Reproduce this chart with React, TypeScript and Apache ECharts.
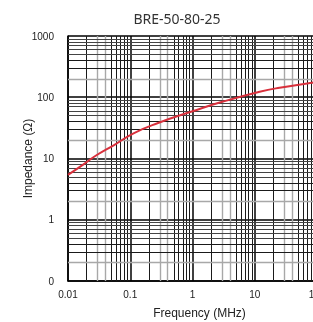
import React, { useEffect, useRef } from "react";
import * as echarts from "echarts";

const title = "BRE-50-80-25";
const xName = "Frequency (MHz)";
const yName = "Impedance (Ω)";

const frequency = [0.01, 0.018, 0.029, 0.055, 0.115, 0.28, 1, 3.1, 12, 25, 82, 100];
const impedance = [5.4, 8.1, 11.4, 16.6, 26, 38, 59, 85, 123, 143, 172, 177];

const xTickLabels = ["0.01", "0.1", "1", "10", "100"];
const yTickLabels = ["0", "1", "10", "100", "1000"];

const xDecades = [0.01, 0.1, 1, 10];
const yDecades = [0.1, 1, 10, 100];
const minorMultipliers = [2, 3, 4, 5, 6, 7, 8, 9];

const FONT = "'Liberation Sans', Arial, sans-serif";

function vStyle(m: number) {
  if (m === 3 || m === 4) return { color: "#a8a8a8", width: 1.4, type: "solid" as const };
  return { color: "#1a1a1a", width: 1, type: "solid" as const };
}
function hStyle(m: number) {
  if (m === 2) return { color: "#a8a8a8", width: 1.4, type: "solid" as const };
  if (m === 3 || m === 4) return { color: "#1a1a1a", width: 1, type: "solid" as const };
  return { color: "#444", width: 1, type: "solid" as const };
}

export default function App() {
  const ref = useRef<HTMLDivElement>(null);
  useEffect(() => {
    if (!ref.current) return;
    const chart = echarts.init(ref.current, undefined, { renderer: "svg" });
    const gridLines: any[] = [];
    xDecades.forEach((d) =>
      minorMultipliers.forEach((m) => gridLines.push({ xAxis: d * m, lineStyle: vStyle(m) }))
    );
    yDecades.forEach((d) =>
      minorMultipliers.forEach((m) => gridLines.push({ yAxis: d * m, lineStyle: hStyle(m) }))
    );
    chart.setOption({
      animation: false,
      grid: {
        left: 68,
        top: 36,
        right: -4,
        bottom: 41,
        containLabel: false,
        outerBoundsMode: "none",
      },
      graphic: [
        {
          type: "text",
          x: 177,
          y: 18,
          style: {
            text: title,
            textAlign: "center",
            textVerticalAlign: "middle",
            fontSize: 14,
            fill: "#333",
            fontFamily: "'Noto Sans', sans-serif",
          },
        },
      ],
      xAxis: {
        type: "log",
        logBase: 10,
        min: 0.01,
        max: 100,
        name: xName,
        nameLocation: "middle",
        nameGap: 26,
        nameMoveOverlap: false,
        nameTextStyle: { fontSize: 12, color: "#222", fontFamily: FONT, padding: [0, 0, 0, 14] },
        axisLine: { show: true, lineStyle: { color: "#000", width: 1.5 } },
        axisTick: { show: false },
        axisLabel: {
          margin: 8,
          fontSize: 10,
          color: "#222",
          fontFamily: FONT,
          formatter: (v: number) => xTickLabels[Math.round(Math.log10(v)) + 2] ?? "",
        },
        splitLine: { show: true, lineStyle: { color: "#000", width: 1.5 } },
      },
      yAxis: {
        type: "log",
        logBase: 10,
        min: 0.1,
        max: 1000,
        name: yName,
        nameLocation: "middle",
        nameGap: 34,
        nameMoveOverlap: false,
        nameTextStyle: { fontSize: 12, color: "#222", fontFamily: FONT },
        axisLine: { show: true, lineStyle: { color: "#000", width: 1.5 } },
        axisTick: { show: false },
        axisLabel: {
          margin: 14,
          fontSize: 10,
          color: "#222",
          fontFamily: FONT,
          formatter: (v: number) => yTickLabels[Math.round(Math.log10(v)) + 1] ?? "",
        },
        splitLine: { show: true, lineStyle: { color: "#000", width: 1.5 } },
      },
      series: [
        {
          type: "line",
          data: [[0.01, 0.1]],
          symbol: "none",
          lineStyle: { opacity: 0 },
          silent: true,
          z: 1,
          markLine: {
            silent: true,
            symbol: ["none", "none"],
            label: { show: false },
            emphasis: { disabled: true },
            animation: false,
            data: gridLines,
          },
        },
        {
          type: "line",
          data: frequency.map((f, i) => [f, impedance[i]]),
          smooth: true,
          symbol: "none",
          z: 10,
          lineStyle: { color: "#d8303c", width: 2 },
        },
      ],
    });
    return () => chart.dispose();
  }, []);
  return (
    <div
      ref={ref}
      style={{ position: "fixed", left: 0, top: 0, width: 313, height: 322 }}
    />
  );
}
